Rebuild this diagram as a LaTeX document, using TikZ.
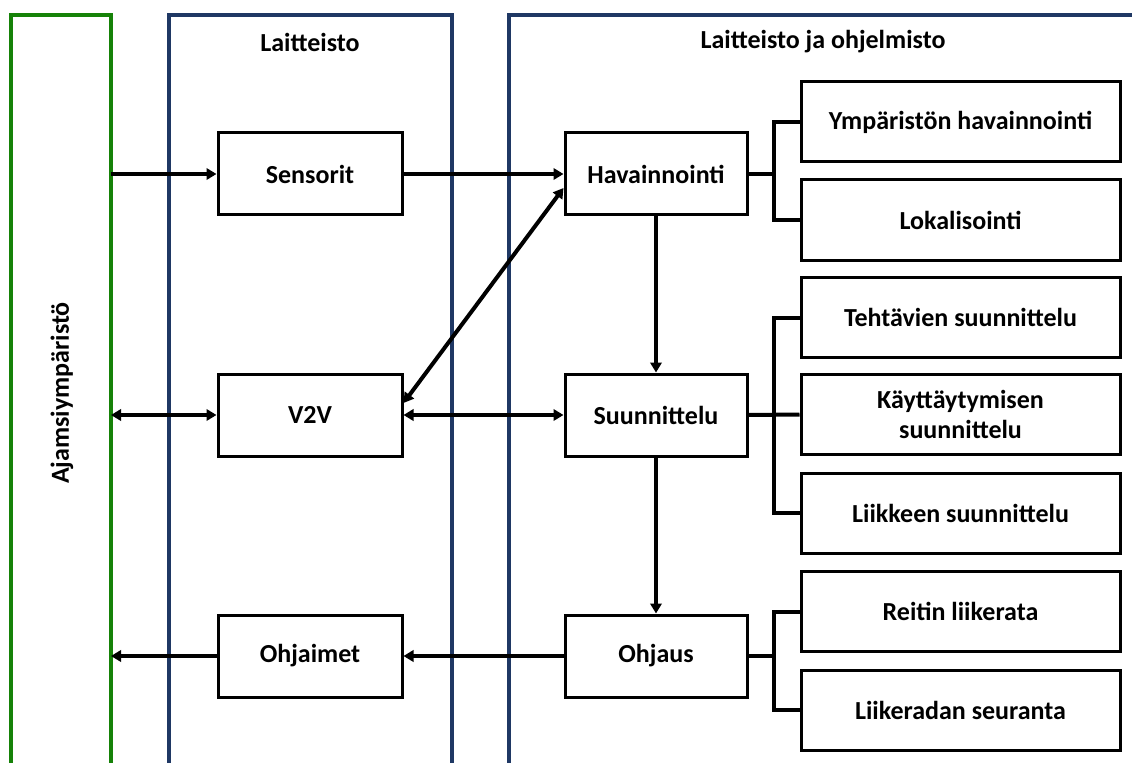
\documentclass[tikz,border=0pt]{standalone}
\usepackage{fontspec}
\setmainfont{Carlito}
\usetikzlibrary{arrows.meta}
\definecolor{envgreen}{RGB}{22,130,8}
\definecolor{hwblue}{RGB}{31,56,100}
\begin{document}
\begin{tikzpicture}[x=0.75pt,y=-0.75pt,
 txt/.style={font=\fontsize{19.5}{23}\selectfont\bfseries},
 box/.style={txt,draw=black,line width=2.25pt,fill=white,align=center,inner sep=0pt},
 lbox/.style={box,minimum width=138pt,minimum height=61.5pt},
 mbox/.style={box,minimum width=136.5pt,minimum height=61.5pt},
 rbox/.style={box,minimum width=239.25pt,minimum height=60pt},
 frame/.style={line width=3pt},
 conn/.style={line width=3pt},
 arr/.style={conn,-{Triangle[length=7.5pt,width=8.5pt]}},
 darr/.style={conn,{Triangle[length=7.5pt,width=8.5pt]}-{Triangle[length=7.5pt,width=8.5pt]}}
]
\useasboundingbox (0,0) rectangle (1132,763);
\fill[white] (0,0) rectangle (1132,763);
\clip (0,0) rectangle (1132,763);

% frames
\draw[frame,envgreen] (11,780) -- (11,15) -- (111,15) -- (111,780);
\draw[frame,hwblue] (169,780) -- (169,15) -- (452,15) -- (452,780);
\draw[frame,hwblue] (509,780) -- (509,15) -- (1150,15);

\node[txt] (lblhw) at (310,42) {Laitteisto};
\node[txt] (lblsw) at (823,42) {Laitteisto ja ohjelmisto};
\node[txt,rotate=90] (lblenv) at (62,393) {Ajamsiympäristö};

% green edge points
\coordinate (gS) at (111,174);
\coordinate (gV) at (111,415);
\coordinate (gO) at (111,656);

% left column
\node[lbox] (sen) at (310,174) {Sensorit};
\node[lbox] (v2v) at (310,415) {V2V};
\node[lbox] (ohi) at (310,656) {Ohjaimet};

% middle column
\node[mbox] (hav) at (656,174) {Havainnointi};
\node[mbox] (suu) at (656,415) {Suunnittelu};
\node[mbox] (ohj) at (656,656) {Ohjaus};

% right column
\node[rbox] (ymp) at (960.5,122) {Ympäristön havainnointi};
\node[rbox] (lok) at (960.5,220) {Lokalisointi};
\node[rbox] (teh) at (960.5,317.5) {Tehtävien suunnittelu};
\node[rbox] (kay) at (960.5,414.5) {Käyttäytymisen\\suunnittelu};
\node[rbox] (lii) at (960.5,513) {Liikkeen suunnittelu};
\node[rbox] (rei) at (960.5,611.5) {Reitin liikerata};
\node[rbox] (lse) at (960.5,710) {Liikeradan seuranta};

\coordinate (bx) at (774,0);

% arrows
\draw[arr] (gS) -- (sen.west);
\draw[arr] (sen.east) -- (hav.west);
\draw[darr] (gV) -- (v2v.west);
\draw[darr] (v2v.east) -- (suu.west);
\draw[darr] ([yshift=9pt]v2v.east) -- ([yshift=-10.5pt]hav.west);
\draw[arr] (ohj.west) -- (ohi.east);
\draw[arr] (ohi.west) -- (gO);
\draw[arr] (hav.south) -- (suu.north);
\draw[arr] (suu.south) -- (ohj.north);

% brackets
\draw[conn] (hav.east) -- (hav.east -| bx);
\draw[conn] (ymp.west) -- (ymp.west -| bx) -- (lok.west -| bx) -- (lok.west);
\draw[conn] (suu.east) -- (kay.west);
\draw[conn] (teh.west) -- (teh.west -| bx) -- (lii.west -| bx) -- (lii.west);
\draw[conn] (ohj.east) -- (ohj.east -| bx);
\draw[conn] (rei.west) -- (rei.west -| bx) -- (lse.west -| bx) -- (lse.west);
\end{tikzpicture}
\end{document}
